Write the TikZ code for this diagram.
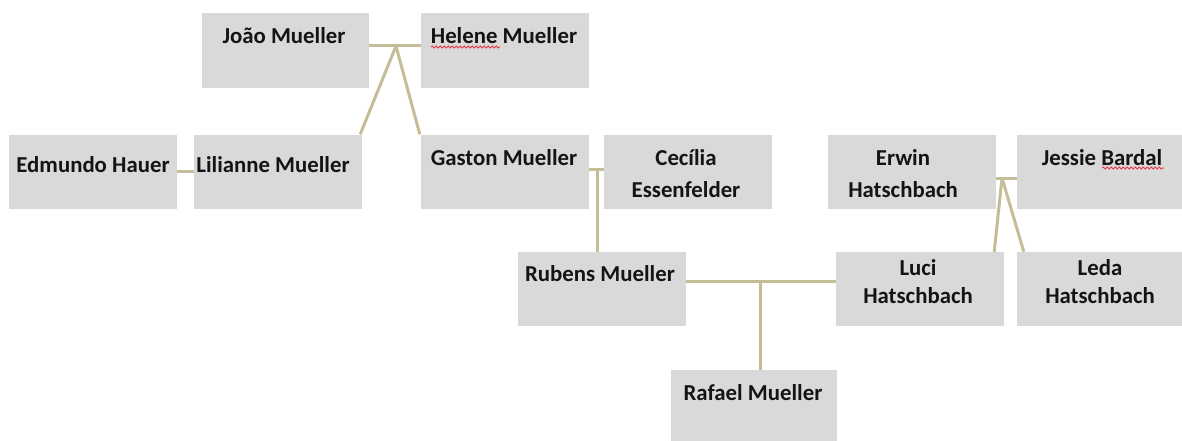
\documentclass[tikz,border=0pt]{standalone}
\usepackage{fontspec}
\setmainfont{Carlito}
\usetikzlibrary{decorations.pathmorphing}
\definecolor{boxgray}{HTML}{D9D9D9}
\definecolor{linktan}{HTML}{C4BD97}
\definecolor{spellred}{HTML}{E8343C}
\begin{document}
\begin{tikzpicture}[x=1pt,y=-1pt,
  person/.style={fill=boxgray, draw=none, inner sep=0, minimum width=168, minimum height=74},
  txt/.style={font=\fontsize{22.8}{28}\selectfont\bfseries, align=center, inner sep=0, text=black!92},
  wide/.style={font=\fontsize{22.8}{32}\selectfont\bfseries},
  link/.style={draw=linktan, line width=3pt},
  spell/.style={draw=spellred, line width=0.8pt, decorate, decoration={snake, amplitude=1.1pt, segment length=4pt}}]
\useasboundingbox (0,0) rectangle (1182,441);
% boxes
\node[person] (edmundo) at (93,171.5) {};
\node[person] (lilianne) at (278,171.5) {};
\node[person, minimum width=167, minimum height=75] (joao) at (285.5,50.5) {};
\node[person, minimum height=75] (helene) at (505,50.5) {};
\node[person] (gaston) at (505,171.5) {};
\node[person] (cecilia) at (688,171.5) {};
\node[person] (erwin) at (912,171.5) {};
\node[person] (jessie) at (1101,171.5) {};
\node[person] (rubens) at (602,289) {};
\node[person] (luci) at (920,289) {};
\node[person] (leda) at (1101,289) {};
\node[person, minimum width=166] (rafael) at (754,407) {};
% texts
\node[txt] (joao-t) at (284,36) {João Mueller};
\node[txt] (helene-t) at (504,36) {Helene Mueller};
\node[txt] (edmundo-t) at (93,165) {Edmundo Hauer};
\node[txt] (lilianne-t) at (273,165) {Lilianne Mueller};
\node[txt] (gaston-t) at (504,158) {Gaston Mueller};
\node[txt, wide] (cecilia-t) at (686,174) {Cecília\\Essenfelder};
\node[txt, wide] (erwin-t) at (903,174) {Erwin\\Hatschbach};
\node[txt] (jessie-t) at (1102,158) {Jessie Bardal};
\node[txt] (rubens-t) at (600,274) {Rubens Mueller};
\node[txt] (luci-t) at (918,282) {Luci\\Hatschbach};
\node[txt] (leda-t) at (1100,282) {Leda\\Hatschbach};
\node[txt] (rafael-t) at (753,393) {Rafael Mueller};
% connectors
\coordinate (m1) at (396,46);
\coordinate (m2) at (597,169);
\coordinate (m3) at (760,281);
\coordinate (m4) at (1002,178);
\draw[link] (m1 -| joao.east) -- (m1 -| helene.west);
\draw[link] (m1) -- ([xshift=-2pt]lilianne.north east);
\draw[link] (m1) -- ([xshift=-1pt]gaston.north west);
\draw[link] (edmundo.east) -- (lilianne.west);
\draw[link] (m2 -| gaston.east) -- (m2 -| cecilia.west);
\draw[link] (m2) -- (m2 |- rubens.north);
\draw[link] (m3 -| rubens.east) -- (m3 -| luci.west);
\draw[link] (m3) -- (m3 |- rafael.north);
\draw[link] (m4 -| erwin.east) -- (m4 -| jessie.west);
\draw[link] (m4) -- ([xshift=-10pt]luci.north east);
\draw[link] (m4) -- ([xshift=7pt]leda.north west);
% spell-check marks
\draw[spell] (431,47) -- (500,47);
\draw[spell] (1102,168) -- (1164,168);
\end{tikzpicture}
\end{document}
